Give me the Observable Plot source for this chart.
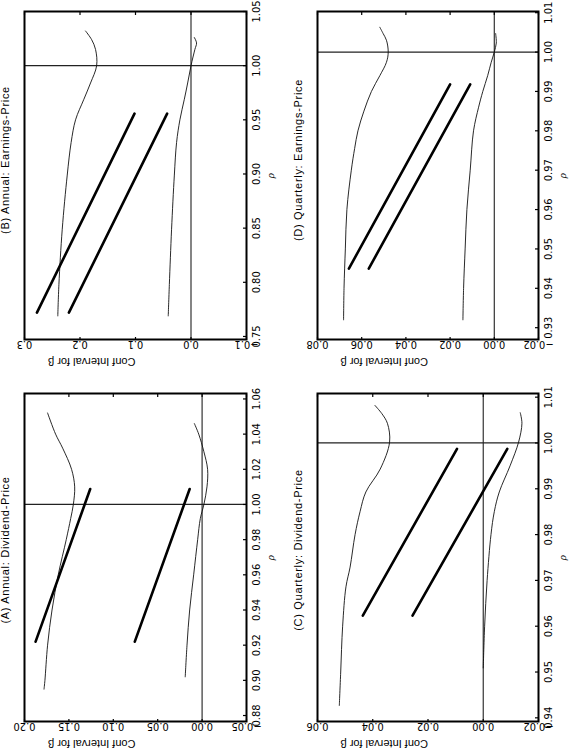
<!DOCTYPE html>
<html><head><meta charset="utf-8">
<script src="https://cdn.jsdelivr.net/npm/d3@7"></script>
<script src="https://cdn.jsdelivr.net/npm/@observablehq/plot@0.6"></script>
<style>
html,body{margin:0;padding:0;background:#fff;}
body{width:576px;height:756px;overflow:hidden;position:relative;}
#land{position:absolute;left:0;top:0;width:756px;height:576px;transform-origin:0 0;transform:translate(0px,756px) rotate(-90deg);background:#fff;}
.panel{position:absolute;width:378px;height:288px;}
.title{position:absolute;font-family:"Liberation Sans",Arial,sans-serif;font-size:11px;letter-spacing:0.7px;white-space:nowrap;color:#000;line-height:11px;transform:translate(-50%,-50%);}
</style></head><body><div id="land"></div>
<script>
// ---------- Data (rho, confidence-interval bound for beta) ----------
const titles = ["(A) Annual: Dividend-Price", "(B) Annual: Earnings-Price",
                "(C) Quarterly: Dividend-Price", "(D) Quarterly: Earnings-Price"];
const xLabel = "ρ";
const yLabel = "Conf Interval for β";

// Panel A
const A_upper = [[0.895,0.178],[0.90,0.177],[0.92,0.174],[0.94,0.169],[0.96,0.162],[0.98,0.153],[0.992,0.148],[1.00,0.145],[1.01,0.1435],[1.02,0.147],[1.032,0.157],[1.04,0.165],[1.052,0.174]];
const A_lower = [[0.902,0.019],[0.92,0.017],[0.94,0.014],[0.96,0.0095],[0.98,0.005],[0.992,0.002],[1.00,-0.002],[1.01,-0.0055],[1.02,-0.0062],[1.03,-0.002],[1.04,0.0038],[1.046,0.0087]];
const A_thick1 = [[0.922,0.1875],[1.0088,0.126]];
const A_thick2 = [[0.922,0.0758],[1.0088,0.014]];
const A_xTicks = [0.88,0.90,0.92,0.94,0.96,0.98,1.00,1.02,1.04,1.06];
const A_yTicks = [-0.05,0.00,0.05,0.10,0.15,0.20];

// Panel B
const B_upper = [[0.769,0.240],[0.798,0.238],[0.849,0.232],[0.899,0.223],[0.929,0.216],[0.950,0.208],[0.969,0.193],[0.984,0.181],[1.00,0.170],[1.015,0.172],[1.024,0.179],[1.032,0.190]];
const B_lower = [[0.769,0.041],[0.798,0.039],[0.849,0.035],[0.899,0.030],[0.929,0.026],[0.950,0.020],[0.969,0.012],[0.984,0.006],[1.00,0.000],[1.015,-0.007],[1.021,-0.010],[1.026,-0.006]];
const B_thick1 = [[0.772,0.2776],[0.9557,0.1018]];
const B_thick2 = [[0.772,0.220],[0.9557,0.043]];
const B_xTicks = [0.75,0.80,0.85,0.90,0.95,1.00,1.05];
const B_yTicks = [-0.1,0.0,0.1,0.2,0.3];

// Panel C
const C_upper = [[0.9427,0.0521],[0.95,0.0516],[0.96,0.0509],[0.9686,0.0497],[0.9729,0.0482],[0.98,0.0464],[0.985,0.0446],[0.9893,0.0425],[0.9943,0.0373],[1.0002,0.0339],[1.0043,0.0347],[1.0064,0.0367],[1.0082,0.0392]];
const C_lower = [[0.9509,0.0000],[0.96,-0.0005],[0.97,-0.0014],[0.98,-0.0028],[0.985,-0.004],[0.9893,-0.0058],[0.995,-0.0097],[1.0002,-0.0128],[1.0043,-0.014],[1.0066,-0.0134]];
const C_thick1 = [[0.9623,0.0436],[0.9987,0.0095]];
const C_thick2 = [[0.9623,0.0256],[0.9987,-0.0087]];
const C_xTicks = [0.94,0.95,0.96,0.97,0.98,0.99,1.00,1.01];
const C_yTicks = [-0.02,0.00,0.02,0.04,0.06];

// Panel D
const D_upper = [[0.932,0.0682],[0.94,0.068],[0.95,0.0674],[0.96,0.0667],[0.97,0.0647],[0.9755,0.0632],[0.98,0.0617],[0.985,0.059],[0.99,0.0556],[0.994,0.0518],[0.9974,0.0488],[1.00,0.048],[1.003,0.0488],[1.0047,0.0503],[1.0063,0.0518]];
const D_lower = [[0.932,0.0142],[0.94,0.0139],[0.95,0.0132],[0.96,0.0124],[0.97,0.0109],[0.98,0.0094],[0.986,0.0071],[0.99,0.0052],[0.994,0.003],[0.9974,0.0014],[1.00,0.0],[1.0023,-0.0009],[1.0047,-0.0006]];
const D_thick1 = [[0.945,0.0658],[0.9918,0.020]];
const D_thick2 = [[0.945,0.0568],[0.9918,0.0109]];
const D_xTicks = [0.93,0.94,0.95,0.96,0.97,0.98,0.99,1.00,1.01];
const D_yTicks = [-0.02,0.00,0.02,0.04,0.06,0.08];

// ---------- Layout (landscape figure, rotated onto the page) ----------
const panels = [
  {title:titles[0], upper:A_upper, lower:A_lower, thick:[A_thick1,A_thick2], xTicks:A_xTicks, yTicks:A_yTicks, xDomain:[0.8766,1.0631], yDomain:[-0.05,0.20], yFmt:".2f", col:0, row:0},
  {title:titles[1], upper:B_upper, lower:B_lower, thick:[B_thick1,B_thick2], xTicks:B_xTicks, yTicks:B_yTicks, xDomain:[0.7472,1.05], yDomain:[-0.1,0.3], yFmt:".1f", col:1, row:0},
  {title:titles[2], upper:C_upper, lower:C_lower, thick:[C_thick1,C_thick2], xTicks:C_xTicks, yTicks:C_yTicks, xDomain:[0.9392,1.0108], yDomain:[-0.02,0.06], yFmt:".2f", col:0, row:1},
  {title:titles[3], upper:D_upper, lower:D_lower, thick:[D_thick1,D_thick2], xTicks:D_xTicks, yTicks:D_yTicks, xDomain:[0.927,1.0103], yDomain:[-0.02,0.08], yFmt:".2f", col:1, row:1}
];
const colMargins = [{left:34,right:16},{left:38,right:12}];
const rowMargins = [{top:24,bottom:42},{top:29,bottom:38}];
const titleY = [5, 298];
const titleShift = [8, 16];

const land = document.getElementById("land");
const W = 378, H = 288;
const px = d => d[0], py = d => d[1];

for (const p of panels) {
  const cm = colMargins[p.col], rm = rowMargins[p.row];
  const plotW = W - cm.left - cm.right, plotH = H - rm.top - rm.bottom;
  const chart = Plot.plot({
    width: W, height: H,
    marginLeft: cm.left, marginRight: cm.right, marginTop: rm.top, marginBottom: rm.bottom,
    x: {domain: p.xDomain},
    y: {domain: p.yDomain},
    style: {fontFamily: "'Liberation Sans Narrow','DejaVu Sans Condensed','Liberation Sans',sans-serif", fontSize: "11px", color: "#000", background: "transparent", overflow: "visible"},
    marks: [
      Plot.ruleY([0], {stroke: "#333", strokeWidth: 1.2}),
      Plot.ruleX([1], {stroke: "#222", strokeWidth: 1.2}),
      Plot.line(p.upper, {x: px, y: py, curve: "catmull-rom", stroke: "#111", strokeWidth: 0.9}),
      Plot.line(p.lower, {x: px, y: py, curve: "catmull-rom", stroke: "#111", strokeWidth: 0.9}),
      Plot.line(p.thick[0], {x: px, y: py, stroke: "#000", strokeWidth: 2.6}),
      Plot.line(p.thick[1], {x: px, y: py, stroke: "#000", strokeWidth: 2.6}),
      Plot.tickX(p.xTicks, {x: d => d, insetTop: plotH - 3, stroke: "#000", strokeWidth: 1.2}),
      Plot.tickY(p.yTicks, {y: d => d, insetRight: plotW - 3, stroke: "#000", strokeWidth: 1.2}),
      Plot.tickY(p.yTicks, {y: d => d, insetLeft: plotW - 3, stroke: "#000", strokeWidth: 1.2}),
      Plot.axisX({ticks: p.xTicks, tickFormat: d3.format(".2f"), tickSize: 0, tickPadding: 6, label: null}),
      Plot.axisY({ticks: p.yTicks, tickFormat: d3.format(p.yFmt), tickSize: 0, tickRotate: -90, tickPadding: 5, lineAnchor: "middle", label: null}),
      Plot.frame({stroke: "#000", strokeWidth: 2}),
      Plot.text([xLabel], {frameAnchor: "bottom", dy: 27, fontStyle: "italic", fontSize: 11, fontFamily: "'Liberation Serif',serif"}),
      Plot.text([yLabel], {frameAnchor: "left", dx: -22, rotate: -90, fontSize: 11, fontFamily: "'Liberation Sans',sans-serif"})
    ]
  });
  const div = document.createElement("div");
  div.className = "panel";
  div.style.left = (p.col * W) + "px";
  div.style.top = (p.row * H) + "px";
  div.appendChild(chart);
  land.appendChild(div);

  const t = document.createElement("div");
  t.className = "title";
  t.textContent = p.title;
  t.style.left = (p.col * W + cm.left + plotW / 2 + titleShift[p.col]) + "px";
  t.style.top = titleY[p.row] + "px";
  land.appendChild(t);
}
</script>
</body></html>
